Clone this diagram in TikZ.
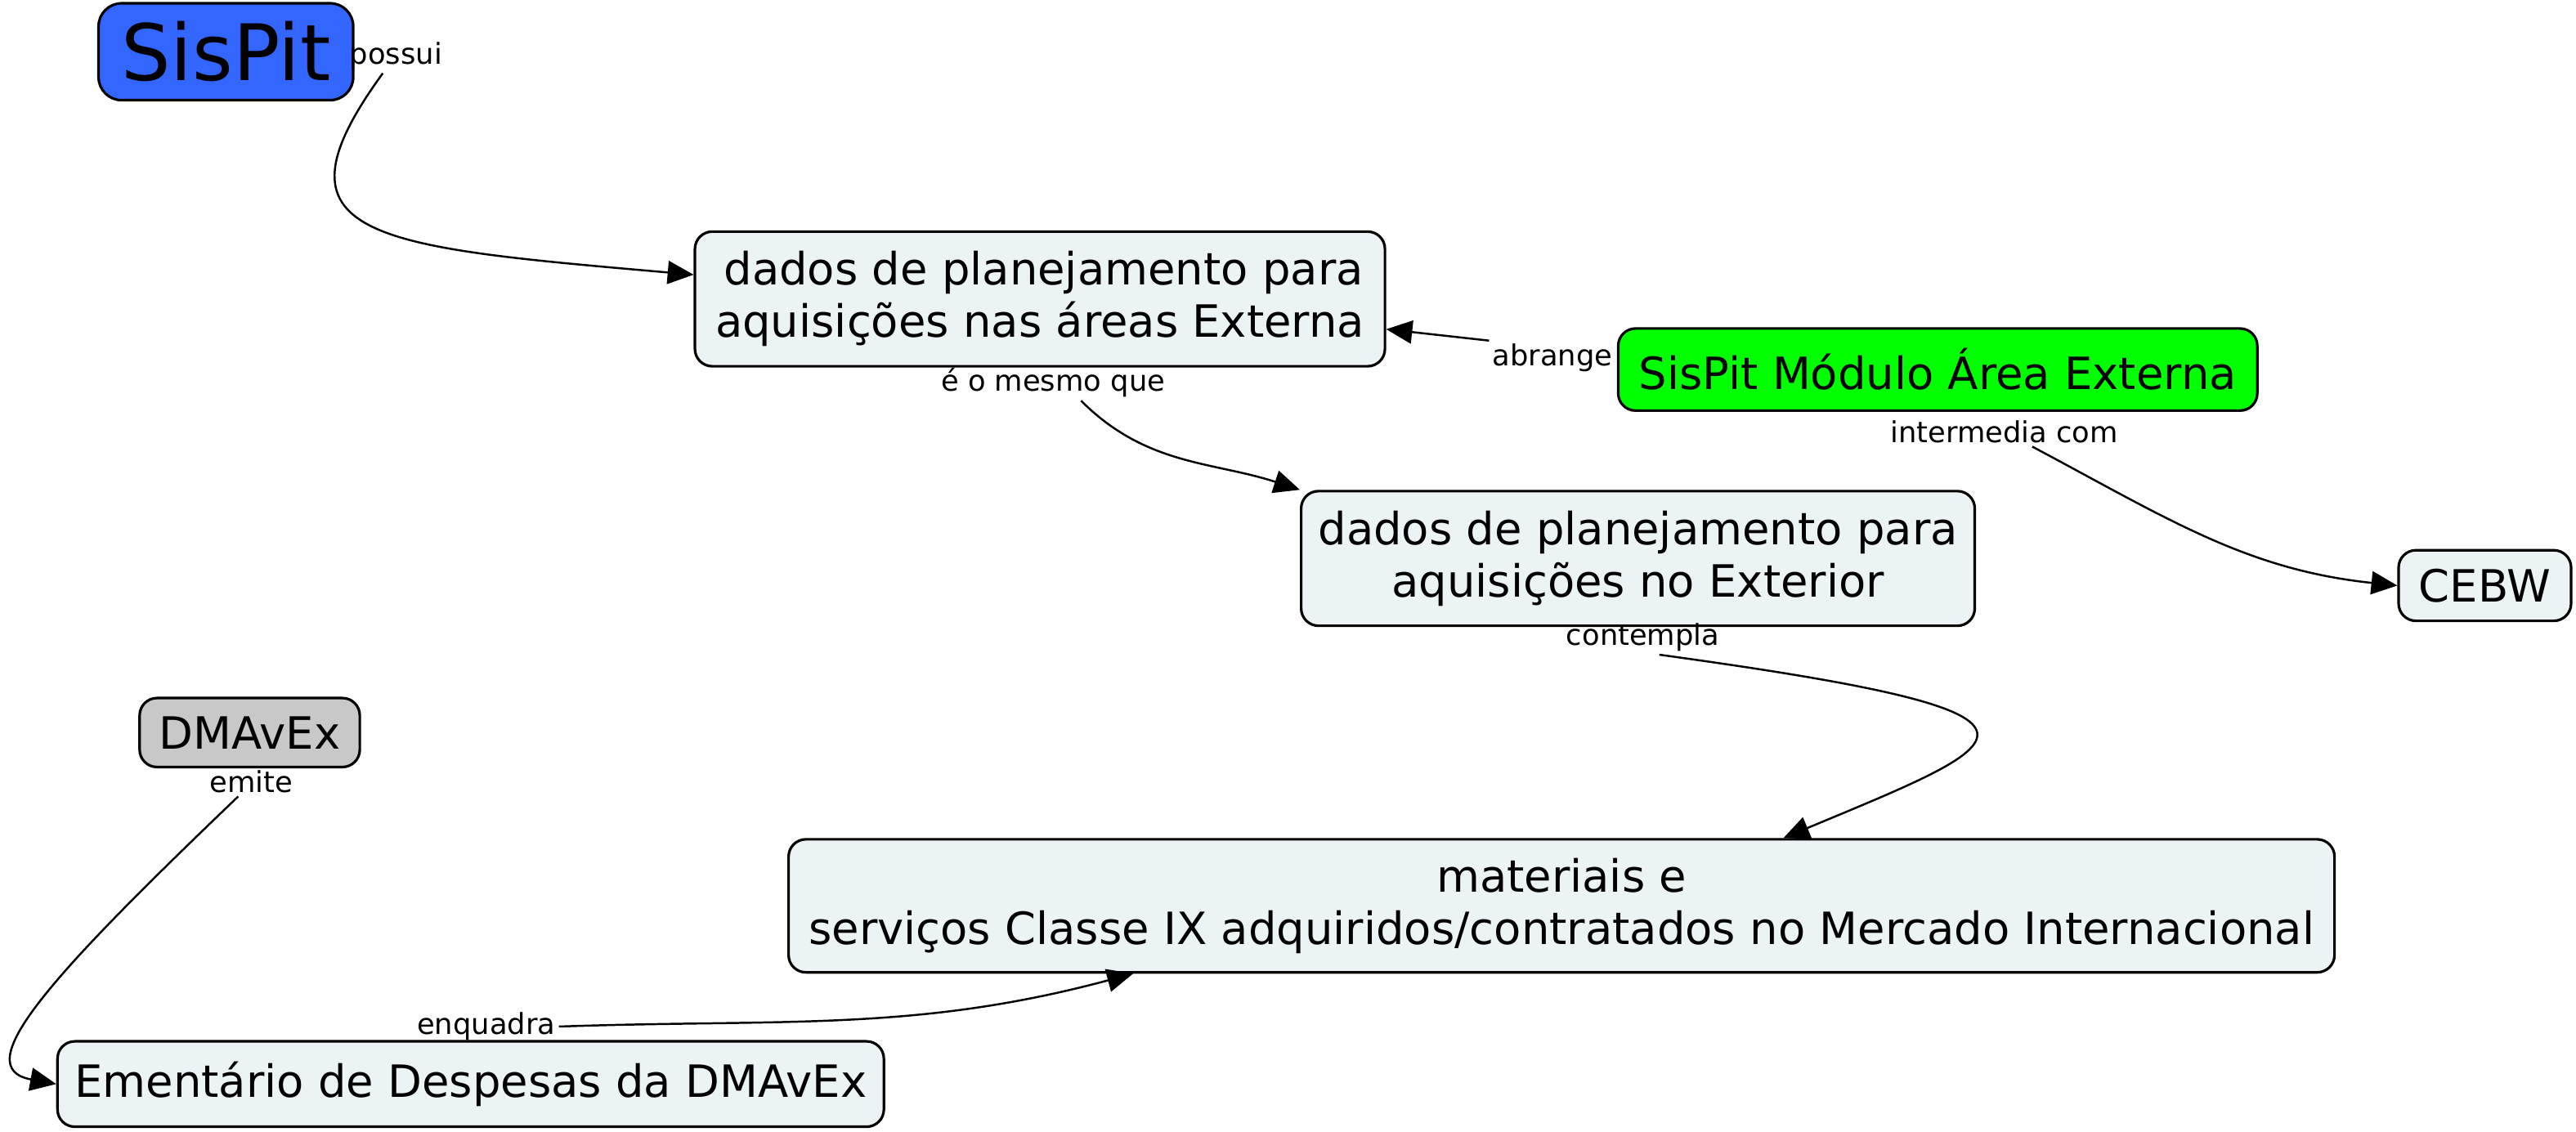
\documentclass[tikz,border=0pt]{standalone}
\usepackage{fontspec}
\setmainfont{DejaVu Sans}
\usetikzlibrary{arrows.meta}
\definecolor{conceptfill}{RGB}{236,243,245}
\definecolor{sispitblue}{RGB}{51,102,255}
\definecolor{modulogreen}{RGB}{0,255,0}
\definecolor{dmavexgray}{RGB}{200,200,200}
\tikzset{
	concept/.style={draw, line width=0.9pt, rounded corners=6pt, fill=conceptfill, align=center, inner sep=0pt, font=\fontsize{15.4}{18}\selectfont},
	linkword/.style={inner sep=1pt, font=\fontsize{10}{12}\selectfont},
	link/.style={line width=0.7pt, -{Triangle[length=9pt,width=8pt]}}
}
\begin{document}
\begin{tikzpicture}
		\useasboundingbox (0, 0) rectangle (31.36, -13.78);

			\node[concept, fill=sispitblue, rounded corners=8pt, minimum width=3.1cm, minimum height=1.18cm, font=\fontsize{27}{30}\selectfont] (sispit) at(2.75, -0.63){SisPit};
			\node[concept, minimum width=8.4cm, minimum height=1.64cm] (dadosext) at(12.66, -3.64){\,dados de planejamento para\\aquisições nas áreas Externa};
			\node[concept, fill=modulogreen, minimum width=7.78cm, minimum height=1.0cm] (modulo) at(23.59, -4.50){SisPit Módulo Área Externa};
			\node[concept, minimum width=8.2cm, minimum height=1.64cm] (dadosexterior) at(19.94, -6.80){dados de planejamento para\\aquisições no Exterior};
			\node[concept, minimum width=2.1cm, minimum height=0.86cm] (cebw) at(30.25, -7.13){CEBW};
			\node[concept, fill=dmavexgray, minimum width=2.68cm, minimum height=0.84cm] (dmavex) at(3.04, -8.92){DMAvEx};
			\node[concept, minimum width=18.82cm, minimum height=1.62cm] (materiais) at(19.01, -11.03){materiais e\\serviços Classe IX adquiridos/contratados no Mercado Internacional};
			\node[concept, minimum width=10.06cm, minimum height=1.04cm] (ementario) at(5.73, -13.2){Ementário de Despesas da DMAvEx};

			\node[linkword] (possui) at(4.82, -0.68){possui};
			\node[linkword] (mesmo) at(12.82, -4.66){é o mesmo que};
			\node[linkword] (abrange) at(18.9, -4.36){abrange};
			\node[linkword] (intermedia) at(24.4, -5.26){intermedia com};
			\node[linkword] (contempla) at(20.0, -7.76){contempla};
			\node[linkword] (emite) at(3.06, -9.52){emite};
			\node[linkword] (enquadra) at(5.92, -12.5){enquadra};

			\draw[link] ([xshift=-0.16cm]possui.south) .. controls (3.2, -2.9) and (4.5, -3.0) .. (dadosext.176.8);
			\draw[link] ([xshift=0.34cm]mesmo.south) to[out=-45, in=162] (dadosexterior.north west);
			\draw[link] (abrange.north west) to (dadosext.-5.7);
			\draw[link] ([xshift=0.34cm]intermedia.south) to[out=-28, in=174] (cebw.west);
			\draw[link] ([xshift=0.2cm]contempla.south) .. controls (25.5, -8.7) and (24.6, -9.0) .. (materiais.17.5);
			\draw[link] ([xshift=-0.16cm]emite.south) .. controls (0.6, -11.9) and (-0.4, -13.0) .. (ementario.west);
			\draw[link] (enquadra.east) to[out=2, in=195] (materiais.189.2);

\end{tikzpicture}
\end{document}
